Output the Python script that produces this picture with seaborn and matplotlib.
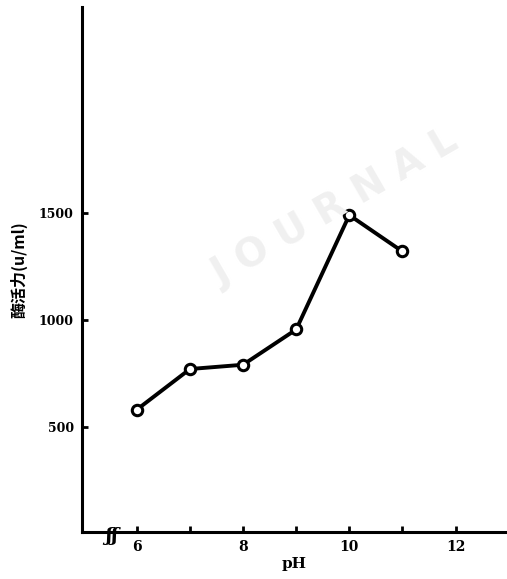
import matplotlib
matplotlib.use("Agg")
import matplotlib.pyplot as plt
import seaborn as sns
import pandas as pd
from matplotlib.ticker import FixedLocator

ph = [6, 7, 8, 9, 10, 11]
activity = [580, 770, 790, 955, 1490, 1320]
xtick_major = [6, 8, 10, 12]
xtick_minor = [7, 9, 11]
ytick_vals = [500, 1000, 1500]
ytick_labels = ["500", "1000", "1500"]

sns.set_theme(style="white")
plt.rcParams['font.family'] = ['DejaVu Serif', 'Noto Sans CJK SC']
plt.rcParams['text.color'] = 'black'
plt.rcParams['axes.labelcolor'] = 'black'
plt.rcParams['xtick.color'] = 'black'
plt.rcParams['ytick.color'] = 'black'

df = pd.DataFrame({"pH": ph, "act": activity})

fig = plt.figure(figsize=(5.07, 5.79), dpi=100)
ax = fig.add_axes([0.162, 0.081, 0.836, 0.907])

# watermark
fig.text(0.66, 0.64, "J O U R N A L", rotation=30, fontsize=28, color="#f0f0f0",
         ha="center", va="center", fontweight="bold", family=['DejaVu Sans'],
         zorder=0)
ax.set_facecolor((1, 1, 1, 0))
fig.patch.set_facecolor("white")

sns.lineplot(data=df, x="pH", y="act", ax=ax, color="black", linewidth=2.8,
             marker="o", markersize=7.5, markerfacecolor="white",
             markeredgecolor="black", markeredgewidth=2.2)

ax.set_xlim(4.97, 12.95)
ax.set_ylim(7, 2464)

for s in ["top", "right"]:
    ax.spines[s].set_visible(False)
for s in ["left", "bottom"]:
    ax.spines[s].set_visible(True)
    ax.spines[s].set_color("black")
    ax.spines[s].set_linewidth(2.2)

ax.xaxis.set_major_locator(FixedLocator(xtick_major))
ax.xaxis.set_minor_locator(FixedLocator(xtick_minor))
ax.set_xticklabels([str(v) for v in xtick_major], fontsize=10, fontweight="bold")
ax.set_yticks(ytick_vals)
ax.set_yticklabels(ytick_labels, fontsize=9, fontweight="bold")
ax.tick_params(axis="both", which="both", direction="in", length=4, width=2,
               color="black", bottom=True, left=True, labelcolor="black")
ax.tick_params(axis="x", pad=6)
ax.tick_params(axis="y", pad=6)

ax.set_xlabel("pH", fontsize=11, fontweight="bold", labelpad=2)
ax.set_ylabel("酶活力(u/ml)", fontsize=11.5, fontweight="bold",
              family=['Noto Sans CJK SC', 'DejaVu Sans'], labelpad=8)

# axis break mark
ax.text(0.071, -0.008, "ʃʃ", transform=ax.transAxes, fontsize=14, fontweight="bold",
        ha="center", va="center", style="italic", color="black",
        family=['DejaVu Serif'])

fig.savefig("out.png", dpi=100)
